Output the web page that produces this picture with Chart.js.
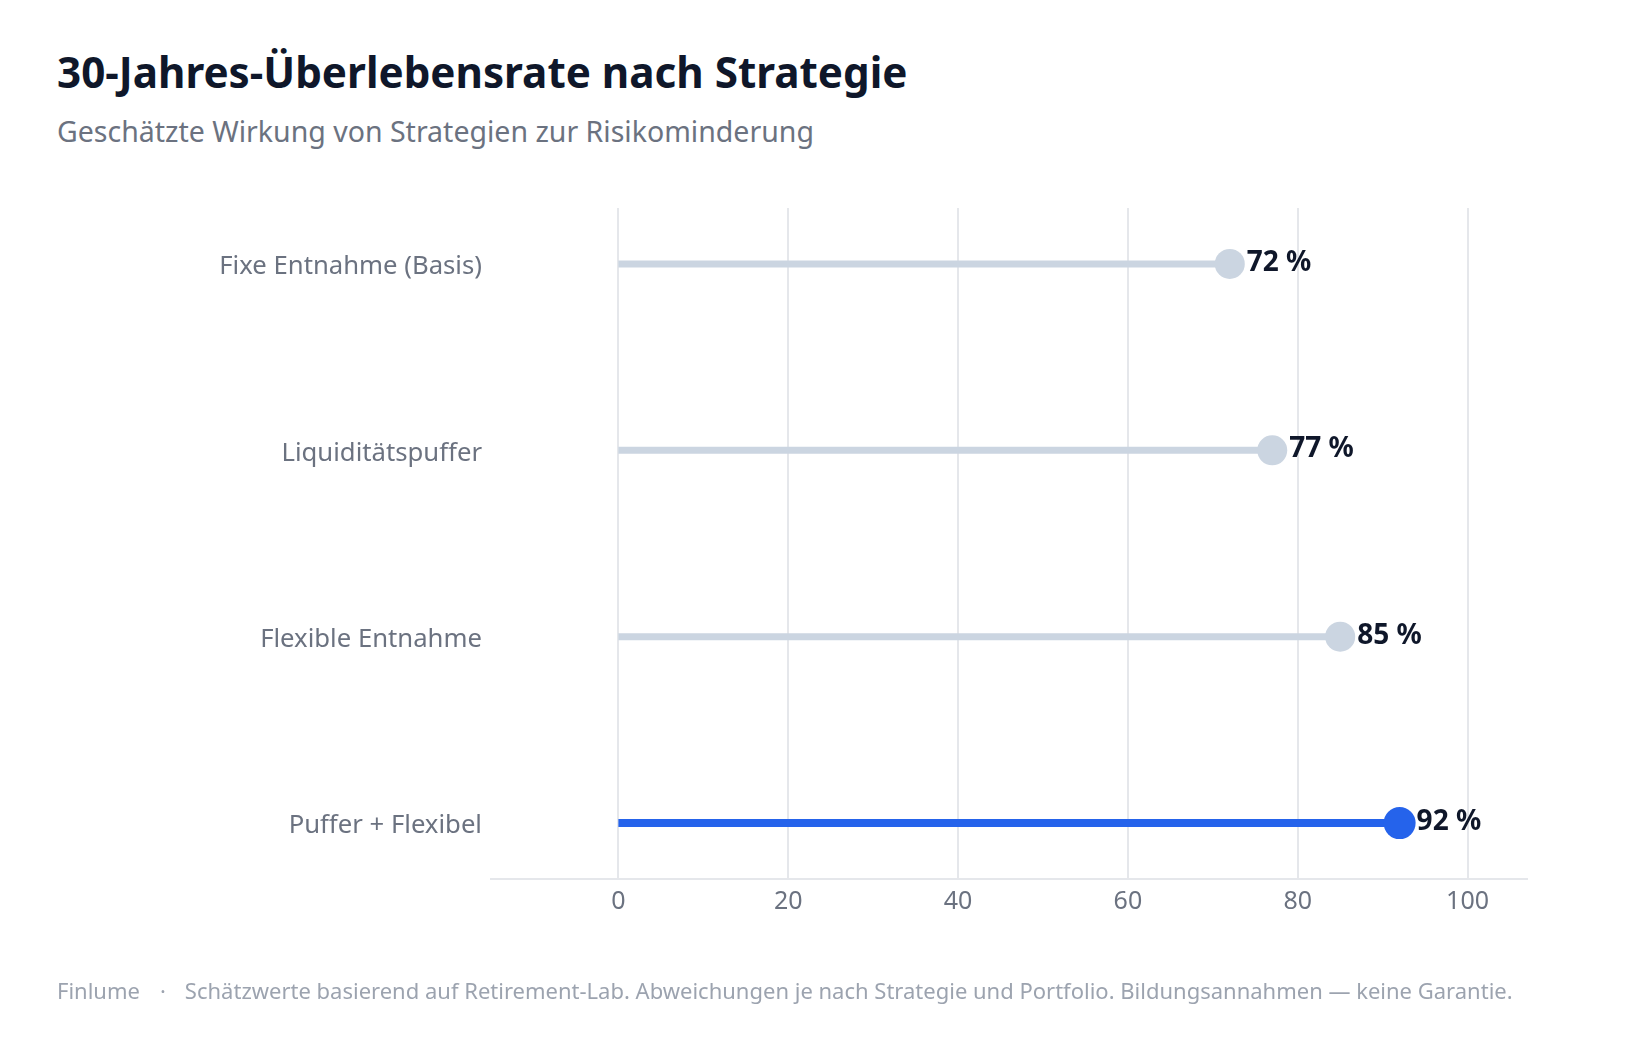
<!DOCTYPE html>
<html lang="de">
<head>
<meta charset="utf-8">
<script src="https://cdn.jsdelivr.net/npm/chart.js@4.4.1/dist/chart.umd.min.js"></script>
<style>
  html, body { margin: 0; padding: 0; background: #ffffff; }
  body { width: 1639px; height: 1040px; position: relative; overflow: hidden; font-family: "Noto Sans", sans-serif; }
  h1 { position: absolute; left: 57px; top: 47px; margin: 0; font-size: 42.2px; font-weight: 700; color: #0f172a; line-height: 1.2; }
  .sub { position: absolute; left: 57px; top: 114px; margin: 0; font-size: 28.5px; color: #6b7280; line-height: 1.2; }
  .foot { position: absolute; left: 57px; top: 977px; font-size: 22px; color: #9ca3af; white-space: nowrap; line-height: 1.2; }
  .foot .dot { margin: 0 19px 0 20px; }
  #wrap { position: absolute; left: 0; top: 0; width: 1639px; height: 1040px; }
</style>
</head>
<body>
<h1>30-Jahres-Überlebensrate nach Strategie</h1>
<p class="sub">Geschätzte Wirkung von Strategien zur Risikominderung</p>
<div id="wrap"><canvas id="lollipop"></canvas></div>
<div class="foot">Finlume<span class="dot">·</span>Schätzwerte basierend auf Retirement-Lab. Abweichungen je nach Strategie und Portfolio. Bildungsannahmen — keine Garantie.</div>

<script>
const strategies = ["Fixe Entnahme (Basis)", "Liquiditätspuffer", "Flexible Entnahme", "Puffer + Flexibel"];
const survivalRates = [72, 77, 85, 92];
const xTicks = [0, 20, 40, 60, 80, 100];

const gray = '#cbd5e1';
const blue = '#2563eb';
const highlight = 3;

// one line dataset per strategy: stem from 0 to the value, dot at the end
const datasets = strategies.map((name, i) => {
  const c = i === highlight ? blue : gray;
  return {
    label: name,
    data: [{ x: 0, y: i }, { x: survivalRates[i], y: i }],
    borderColor: c,
    backgroundColor: c,
    borderWidth: i === highlight ? 8 : 7,
    pointRadius: [0, i === highlight ? 16 : 15],
    pointHoverRadius: [0, i === highlight ? 16 : 15],
    pointBorderWidth: 0,
    pointBackgroundColor: c,
    borderCapStyle: 'butt'
  };
});

const valueLabels = {
  id: 'valueLabels',
  afterDatasetsDraw(chart) {
    const ctx = chart.ctx;
    ctx.save();
    ctx.font = 'bold 28px "Noto Sans"';
    ctx.fillStyle = '#0f172a';
    ctx.textAlign = 'left';
    ctx.textBaseline = 'middle';
    chart.data.datasets.forEach((ds, i) => {
      const pt = chart.getDatasetMeta(i).data[1];
      ctx.fillText(survivalRates[i] + ' %', pt.x + 17, pt.y - 1);
    });
    ctx.restore();
  }
};

const ctxL = document.getElementById('lollipop');
new Chart(ctxL, {
  type: 'line',
  data: { datasets: datasets },
  options: {
    responsive: true,
    maintainAspectRatio: false,
    animation: false,
    plugins: { legend: { display: false }, tooltip: { enabled: false } },
    layout: { padding: { top: 208, right: 112, bottom: 121, left: 0 } },
    scales: {
      x: {
        type: 'linear',
        min: -15,
        max: 107,
        afterBuildTicks: (scale) => { scale.ticks = xTicks.map(v => ({ value: v })); },
        afterFit: (scale) => { scale.height = 40; },
        grid: { color: '#e5e7eb', lineWidth: 2, drawTicks: false },
        border: { color: '#e5e7eb', width: 2 },
        ticks: { color: '#6b7280', font: { family: 'Noto Sans', size: 25 }, padding: 8 }
      },
      y: {
        type: 'linear',
        reverse: true,
        min: -0.3,
        max: 3.3,
        afterBuildTicks: (scale) => { scale.ticks = strategies.map((s, i) => ({ value: i })); },
        afterFit: (scale) => { scale.width = 491; },
        grid: { display: false, drawTicks: false },
        border: { display: false },
        ticks: {
          color: '#6b7280',
          font: { family: 'Noto Sans', size: 25.7 },
          padding: 9,
          labelOffset: 3,
          callback: (v) => strategies[v]
        }
      }
    }
  },
  plugins: [valueLabels]
});
</script>
</body>
</html>
